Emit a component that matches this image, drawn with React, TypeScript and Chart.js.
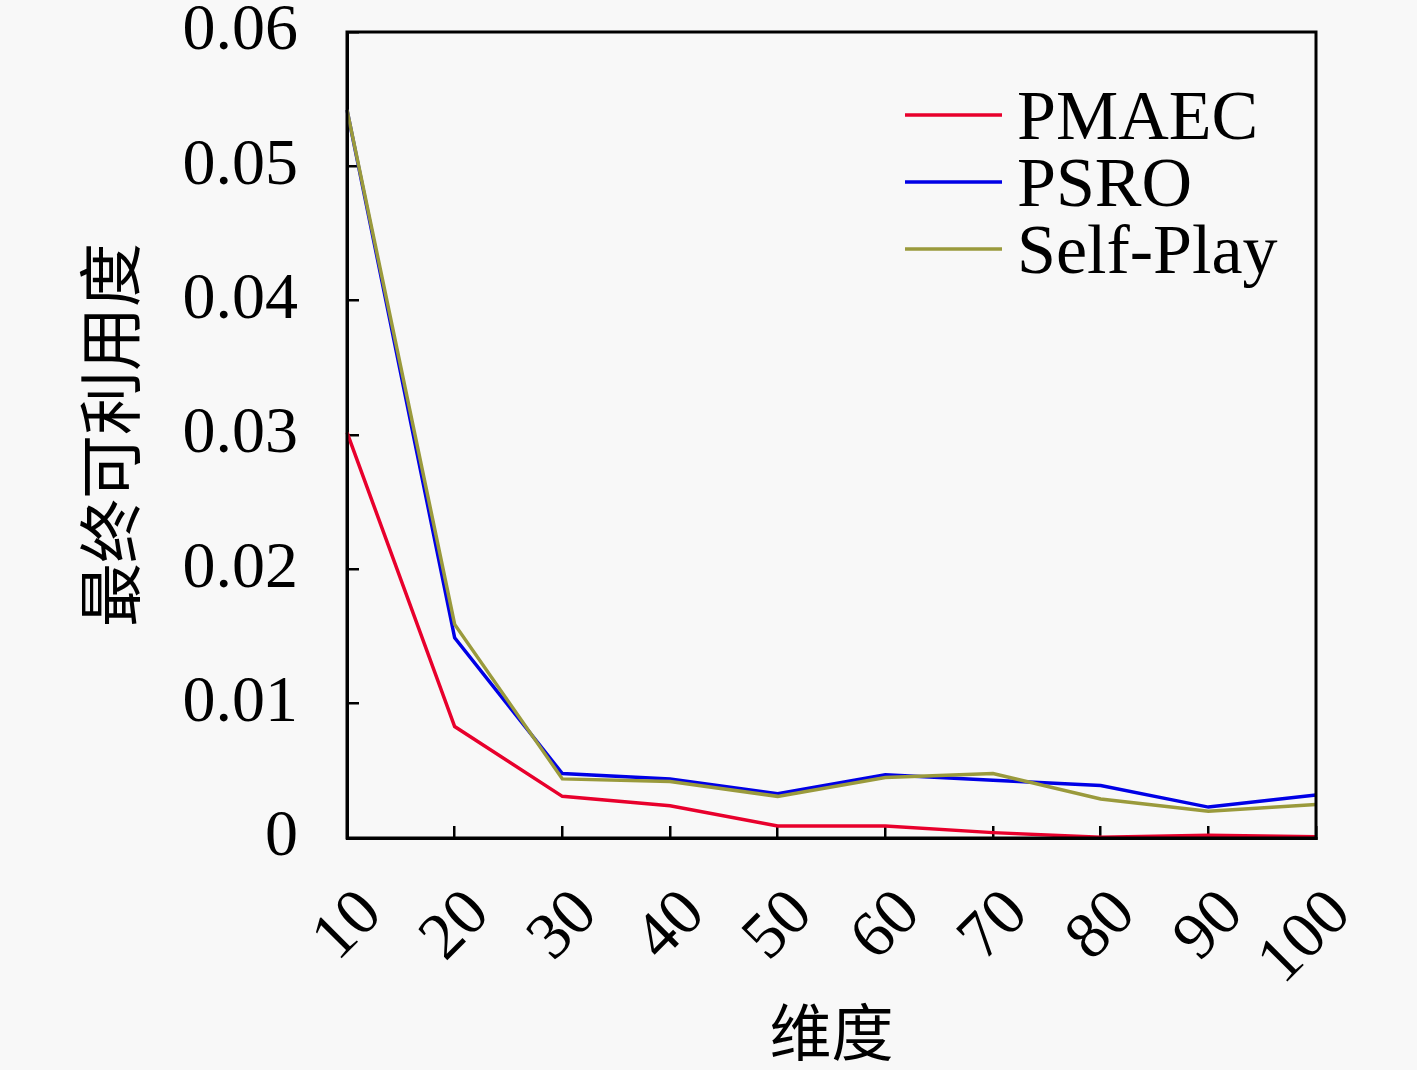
import React, { useEffect, useRef } from "react";
import { Chart, registerables } from "chart.js";

Chart.register(...registerables);

const categories = ["10", "20", "30", "40", "50", "60", "70", "80", "90", "100"];
const pmaec = [0.0302, 0.0083, 0.0031, 0.0024, 0.0009, 0.0009, 0.0004, 0.00005, 0.0002, 0.0001];
const psro = [0.0542, 0.0149, 0.0048, 0.0044, 0.0033, 0.0047, 0.0043, 0.0039, 0.0023, 0.0032];
const selfPlay = [0.0542, 0.0159, 0.0044, 0.0042, 0.0031, 0.0045, 0.0048, 0.0029, 0.0020, 0.0025];
const seriesNames = ["PMAEC", "PSRO", "Self-Play"];
const seriesColors = ["#e8002c", "#0000e6", "#9a9a3c"];
const yTickLabels = ["0", "0.01", "0.02", "0.03", "0.04", "0.05", "0.06"];
const xTitle = "维度";
const yTitle = "最终可利用度";

const SERIF = "'Liberation Serif', 'DejaVu Serif', serif";
const CJK = "'Noto Sans CJK SC', sans-serif";

const frameAndLegend = {
  id: "frameAndLegend",
  afterDatasetsDraw(chart: any) {
    const { ctx, chartArea } = chart;
    ctx.save();
    ctx.strokeStyle = "#000";
    ctx.lineWidth = 3;
    ctx.strokeRect(chartArea.left, chartArea.top, chartArea.right - chartArea.left, chartArea.bottom - chartArea.top);
    // legend
    const x0 = chartArea.left + 558;
    const x1 = chartArea.left + 655;
    const tx = chartArea.left + 670;
    const y0 = chartArea.top + 83;
    const dy = 67;
    ctx.font = "70px " + SERIF;
    ctx.textAlign = "left";
    ctx.textBaseline = "alphabetic";
    chart.data.datasets.forEach((ds: any, i: number) => {
      const y = y0 + i * dy;
      ctx.strokeStyle = ds.borderColor;
      ctx.lineWidth = 3.5;
      ctx.beginPath();
      ctx.moveTo(x0, y);
      ctx.lineTo(x1, y);
      ctx.stroke();
      ctx.fillStyle = "#000";
      ctx.fillText(ds.label, tx, y + 24);
    });
    ctx.restore();
  },
};

export default function App() {
  const ref = useRef<HTMLCanvasElement>(null);
  useEffect(() => {
    if (!ref.current) return;
    const seriesData = [pmaec, psro, selfPlay];
    const orders = [2, 1, 0];
    const chart = new Chart(ref.current, {
      type: "line",
      data: {
        labels: categories,
        datasets: seriesNames.map((name, i) => ({
          label: name,
          data: seriesData[i],
          borderColor: seriesColors[i],
          backgroundColor: seriesColors[i],
          borderWidth: 3.5,
          pointRadius: 0,
          tension: 0,
          fill: false,
          order: orders[i],
        })),
      },
      options: {
        animation: false,
        responsive: true,
        maintainAspectRatio: false,
        devicePixelRatio: 1,
        layout: { padding: { left: 0, top: 32, right: 101, bottom: 0 } },
        plugins: {
          legend: { display: false },
          tooltip: { enabled: false },
        },
        scales: {
          x: {
            type: "category",
            offset: false,
            border: { display: true, color: "#000", width: 3 },
            grid: { drawOnChartArea: false, drawTicks: true, tickLength: -12, color: "#000", lineWidth: 2.5 },
            ticks: {
              color: "#000",
              font: { family: SERIF, size: 66, lineHeight: 1 },
              minRotation: 45,
              maxRotation: 45,
              autoSkip: false,
              padding: 54,
              labelOffset: 25,
            },
            title: {
              display: true,
              text: xTitle,
              color: "#000",
              font: { family: CJK, size: 62, lineHeight: 1.2 },
              padding: { top: 0, bottom: 0 },
            },
            afterFit(scale: any) {
              scale.height = 232;
              scale.paddingLeft = 0;
              scale.paddingRight = 0;
            },
          },
          y: {
            min: 0,
            max: 0.06,
            border: { display: true, color: "#000", width: 3 },
            grid: { drawOnChartArea: false, drawTicks: true, tickLength: -12, color: "#000", lineWidth: 2.5 },
            ticks: {
              stepSize: 0.01,
              color: "#000",
              font: { family: SERIF, size: 66, lineHeight: 1 },
              padding: 61,
              callback: (_v: any, idx: number) => yTickLabels[idx],
            },
            title: {
              display: true,
              text: yTitle,
              color: "#000",
              font: { family: CJK, size: 64, lineHeight: 1.2 },
              padding: { top: 71, bottom: 0 },
            },
            afterFit(scale: any) {
              scale.width = 347;
              scale.paddingTop = 0;
              scale.paddingBottom = 0;
            },
          },
        },
      },
      plugins: [frameAndLegend],
    });
    return () => chart.destroy();
  }, []);

  return (
    <div style={{ position: "fixed", left: 0, top: 0, width: 1417, height: 1070, background: "#f8f8f8" }}>
      <canvas ref={ref} />
    </div>
  );
}
